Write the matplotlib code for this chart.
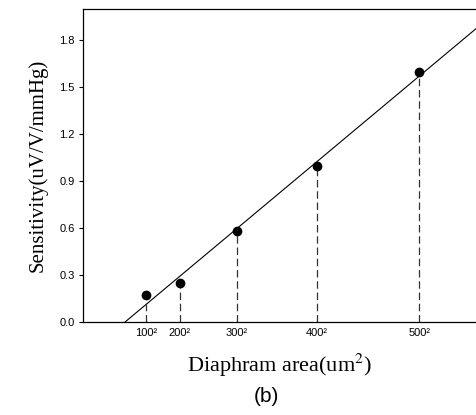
import numpy as np
import matplotlib
matplotlib.use("Agg")
import matplotlib.pyplot as plt

plt.rcParams["mathtext.fontset"] = "stix"

# Data
side_um = [100, 200, 300, 400, 500]
area_um2 = [s ** 2 for s in side_um]
sensitivity = [0.17, 0.25, 0.58, 1.0, 1.6]
x_tick_labels = ["100²", "200²", "300²", "400²", "500²"]
y_ticks = [0.0, 0.3, 0.6, 0.9, 1.2, 1.5, 1.8]

fig = plt.figure(figsize=(4.77, 4.15), dpi=100)
ax = fig.add_axes([0.174, 0.224, 0.825, 0.754])

# Linear fit through data
slope, intercept = np.polyfit(area_um2, sensitivity, 1)
xfit = np.array([-45000, 300000])
ax.plot(xfit, slope * xfit + intercept, color="black", lw=0.8)

# Dashed drop lines
for a, s in zip(area_um2, sensitivity):
    ax.plot([a, a], [0, s], color="#333333", lw=0.9, ls=(0, (6, 3)))

ax.plot(area_um2, sensitivity, "o", color="black", ms=6)

ax.set_xlim(-45000, 300000)
ax.set_ylim(0, 2.0)
ax.set_xticks(area_um2)
ax.set_xticklabels(x_tick_labels, fontsize=8, family="Liberation Sans")
ax.set_yticks(y_ticks)
ax.set_yticklabels([f"{v:.1f}" for v in y_ticks], fontsize=8, family="Liberation Sans")
ax.tick_params(axis="x", length=0, pad=4)
ax.tick_params(axis="y", length=3, width=0.8, direction="out", pad=3)
for sp in ax.spines.values():
    sp.set_linewidth(0.9)
ax.spines["right"].set_linewidth(0.4)
ax.spines["right"].set_color("#aaaaaa")

ax.set_ylabel("Sensitivity(uV/V/mmHg)", family="Liberation Serif", fontsize=15, labelpad=8)
ax.set_xlabel("Diaphram area(um$^2$)", family="Liberation Serif", fontsize=16, labelpad=10)
fig.text(0.558, 0.045, "(b)", family="Liberation Sans", fontsize=15, ha="center", va="center")

fig.savefig("out.png", dpi=100)
